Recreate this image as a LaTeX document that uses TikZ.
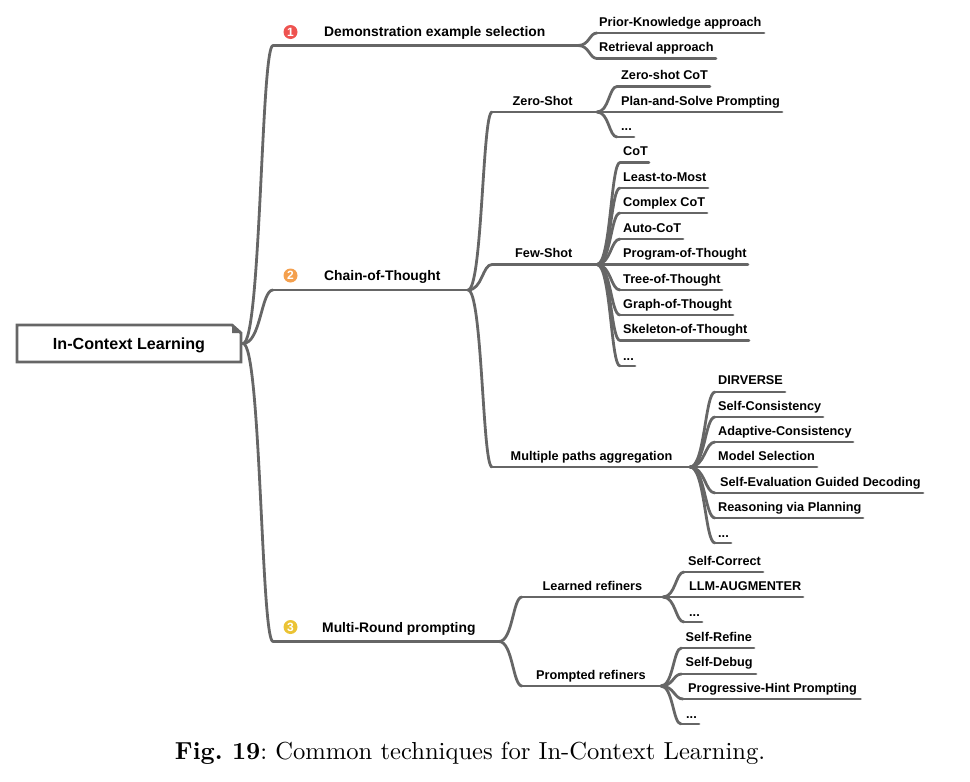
\documentclass[tikz,border=0pt]{standalone}
\usepackage{fontspec}
\setsansfont{Liberation Sans}
\usetikzlibrary{calc}
\definecolor{branchgray}{HTML}{666666}
\definecolor{badgeone}{HTML}{EE5350}
\definecolor{badgetwo}{HTML}{F4A04E}
\definecolor{badgethree}{HTML}{EBC334}
\tikzset{
  branch/.style={draw=branchgray,line width=2.8pt,line cap=round,line join=round},
  lab/.style={anchor=base west,inner sep=0pt,font=\sffamily\bfseries\fontsize{12.7}{14}\selectfont,text=black},
  mainlab/.style={lab,font=\sffamily\bfseries\fontsize{13.87}{15}\selectfont},
  badge/.style={circle,inner sep=0pt,minimum size=14pt,text=white,font=\sffamily\bfseries\fontsize{12}{12}\selectfont},
}
% \topic[style]{name}{x left}{x right}{y line}{x text}{y text}{text}
\newcommand{\topic}[7][lab]{%
  \coordinate (#2-l) at (#3,#5);
  \coordinate (#2-r) at (#4,#5);
  \node[#1] (#2) at (#6,#5-#7) {\topictext};
  \draw[branch] (#2-l) -- (#2-r);
}
\newcommand{\mytopic}[7][lab]{\def\topictext{#7}\topic[#1]{#2}{#3}{#4}{#5}{#6}{\offs}}
\newcommand{\offs}{6.6}
\newcommand{\linkto}[2]{%
  \draw[branch] let \p1=(#1),\p2=(#2) in (#1) .. controls ({\x1+.6*(\x2-\x1)},\y1) and ({\x1+.6*(\x2-\x1)},\y2) .. (#2);
}
\begin{document}
\begin{tikzpicture}[x=1pt,y=-1pt]
\useasboundingbox (0,0) rectangle (970,782);
% root
\node[inner sep=0pt,minimum width=224pt,minimum height=38pt,font=\sffamily\bfseries\fontsize{16.1}{18}\selectfont,text=black] (root) at (129,345) {In-Context Learning};
\draw[branch,line cap=butt,line join=miter] (17,325) -- (232,325) -- (241,333) -- (241,362) -- (17,362) -- cycle;
\fill[branchgray] (232,325) -- (232,333) -- (241,333) -- cycle;
\coordinate (root-r) at (243,343.5);
% level 1
\renewcommand{\offs}{9.5}
\mytopic[mainlab]{demo}{273}{578}{45.5}{324}{Demonstration example selection}
\mytopic[mainlab]{chain}{273}{468}{290}{324}{Chain-of-Thought}
\mytopic[mainlab]{multi}{273}{499}{641.5}{322}{Multi-Round prompting}
\linkto{root-r}{demo-l}\linkto{root-r}{chain-l}\linkto{root-r}{multi-l}
\node[badge,fill=badgeone] (b1) at (290.5,32) {1};
\node[badge,fill=badgetwo] (b2) at (290.5,275.5) {2};
\node[badge,fill=badgethree] (b3) at (290.5,627) {3};
% level 2
\renewcommand{\offs}{6.6}
\mytopic{prior}{597}{764}{33}{599}{Prior-Knowledge approach}
\mytopic{retr}{597}{716}{58.5}{599}{Retrieval approach}
\linkto{demo-r}{prior-l}\linkto{demo-r}{retr-l}
\mytopic{zero}{492}{597}{112}{512.5}{Zero-Shot}
\mytopic{few}{492}{597}{264.5}{515}{Few-Shot}
\mytopic{paths}{492}{690}{467}{510.5}{Multiple paths aggregation}
\linkto{chain-r}{zero-l}\linkto{chain-r}{few-l}\linkto{chain-r}{paths-l}
\mytopic{zcot}{617}{710}{86.5}{621}{Zero-shot CoT}
\mytopic{plan}{597}{782}{112}{621}{Plan-and-Solve Prompting}
\mytopic{zmore}{617}{634}{137}{621}{...}
\linkto{zero-r}{zcot-l}\linkto{zero-r}{plan-l}\linkto{zero-r}{zmore-l}
\mytopic{cot}{620}{649}{162.5}{623}{CoT}
\mytopic{least}{620}{708}{188}{623}{Least-to-Most}
\mytopic{complex}{620}{707}{213}{623}{Complex CoT}
\mytopic{auto}{620}{683}{239}{623}{Auto-CoT}
\mytopic{prog}{597}{748}{264.5}{623}{Program-of-Thought}
\mytopic{tree}{620}{722}{290}{623}{Tree-of-Thought}
\mytopic{graph}{620}{733}{315}{623}{Graph-of-Thought}
\mytopic{skel}{620}{749}{340.5}{623}{Skeleton-of-Thought}
\renewcommand{\offs}{5.6}
\mytopic{fmore}{620}{635}{366}{623}{...}
\renewcommand{\offs}{7.6}
\mytopic{dir}{715}{785}{392}{718}{DIRVERSE}
\renewcommand{\offs}{6.6}
\linkto{few-r}{cot-l}\linkto{few-r}{least-l}\linkto{few-r}{complex-l}\linkto{few-r}{auto-l}\linkto{few-r}{prog-l}\linkto{few-r}{tree-l}\linkto{few-r}{graph-l}\linkto{few-r}{skel-l}\linkto{few-r}{fmore-l}
\mytopic{scons}{715}{823}{417}{718}{Self-Consistency}
\mytopic{acons}{715}{853}{442}{718}{Adaptive-Consistency}
\mytopic{model}{690}{817}{467}{718}{Model Selection}
\mytopic{seval}{715}{923}{493}{720}{Self-Evaluation Guided Decoding}
\mytopic{reason}{715}{863}{518}{718}{Reasoning via Planning}
\renewcommand{\offs}{5.6}
\mytopic{pmore}{715}{731}{543}{718}{...}
\renewcommand{\offs}{6.6}
\linkto{paths-r}{dir-l}\linkto{paths-r}{scons-l}\linkto{paths-r}{acons-l}\linkto{paths-r}{model-l}\linkto{paths-r}{seval-l}\linkto{paths-r}{reason-l}\linkto{paths-r}{pmore-l}
\mytopic{learned}{522}{663}{597}{542.5}{Learned refiners}
\mytopic{prompted}{522}{661}{686}{536}{Prompted refiners}
\linkto{multi-r}{learned-l}\linkto{multi-r}{prompted-l}
\mytopic{scorr}{684}{763}{572}{688}{Self-Correct}
\mytopic{llm}{663}{803}{597}{689}{LLM-AUGMENTER}
\renewcommand{\offs}{5.6}
\mytopic{lmore}{684}{702}{622}{689}{...}
\renewcommand{\offs}{6.6}
\linkto{learned-r}{scorr-l}\linkto{learned-r}{llm-l}\linkto{learned-r}{lmore-l}
\mytopic{sref}{681.5}{754}{648}{685.5}{Self-Refine}
\renewcommand{\offs}{7.4}
\mytopic{sdeb}{681.5}{756}{674}{685.5}{Self-Debug}
\renewcommand{\offs}{6.6}
\mytopic{phint}{683}{860.5}{699}{688}{Progressive-Hint Prompting}
\renewcommand{\offs}{5.6}
\mytopic{prmore}{681}{699}{724}{686}{...}
\linkto{prompted-r}{sref-l}\linkto{prompted-r}{sdeb-l}\linkto{prompted-r}{phint-l}\linkto{prompted-r}{prmore-l}
% caption
\node[anchor=base west,inner sep=0pt,scale=2.46,font=\fontsize{10}{12}\selectfont,text=black] (cap) at (174.5,759.5) {\frenchspacing\textbf{Fig. 19}: Common techniques for In-Context Learning.};
\end{tikzpicture}
\end{document}
